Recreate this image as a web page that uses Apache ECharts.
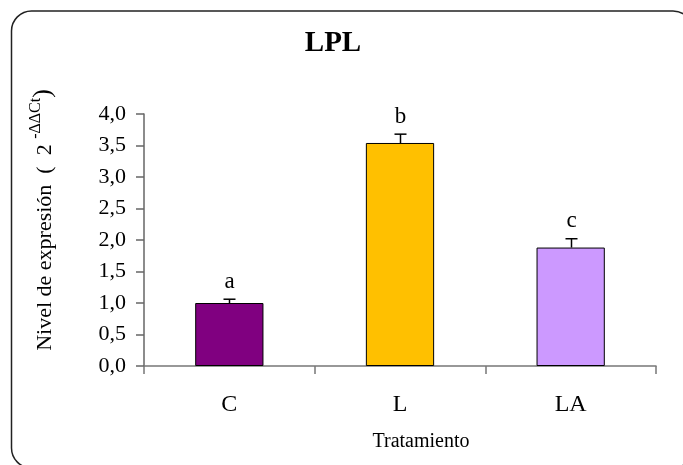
<!DOCTYPE html>
<html><head><meta charset="utf-8">
<script src="https://cdn.jsdelivr.net/npm/echarts@6/dist/echarts.min.js"></script>
<style>html,body{margin:0;padding:0;background:#fff}#c{width:683px;height:465px}</style>
</head><body><div id="c"></div>
<script>
const categories = ['C', 'L', 'LA'];
const values = [1.0, 3.54, 1.88];
const errors = [0.06, 0.14, 0.14];
const letters = ['a', 'b', 'c'];
const barColors = ['#800080', '#FFC000', '#CC99FF'];
const titleText = 'LPL';
const xTitle = 'Tratamiento';

const FONT = '"Liberation Serif", "Times New Roman", serif';
const chart = echarts.init(document.getElementById('c'));
chart.setOption({
  backgroundColor: '#fff',
  animation: false,
  grid: { left: 144, right: 27, top: 114, bottom: 99 },
  xAxis: {
    type: 'category',
    data: categories,
    boundaryGap: true,
    axisLine: { show: true, lineStyle: { color: '#777', width: 1.5 } },
    axisTick: { show: true, length: 8, alignWithLabel: false, lineStyle: { color: '#777', width: 1.5 } },
    axisLabel: { fontFamily: FONT, fontSize: 24, color: '#000', margin: 27 },
    splitLine: { show: false }
  },
  yAxis: {
    type: 'value',
    min: 0, max: 4, interval: 0.5,
    axisLine: { show: true, lineStyle: { color: '#666', width: 1.5 } },
    axisTick: { show: true, length: 8, lineStyle: { color: '#666', width: 1.5 } },
    axisLabel: { fontFamily: FONT, fontSize: 22, color: '#000', margin: 18,
      formatter: v => v.toFixed(1).replace('.', ',') },
    splitLine: { show: false }
  },
  graphic: [
    { type: 'rect', shape: { x: 11.5, y: 11, width: 681.5, height: 457, r: 20 },
      style: { fill: 'none', stroke: '#222', lineWidth: 1.5 }, silent: true, z: -1 },
    { type: 'text', x: 333, y: 44,
      style: { text: titleText, font: 'bold 29px ' + FONT, fill: '#000', align: 'center', verticalAlign: 'middle' } },
    { type: 'text', x: 421, y: 442,
      style: { text: xTitle, font: '20px ' + FONT, fill: '#000', align: 'center', verticalAlign: 'middle' } },
    { type: 'text', x: 42, y: 220, rotation: Math.PI / 2,
      style: {
        text: '{m|Nivel de expresión  (  2 }{s|-ΔΔCt}{p|)}',
        align: 'center', verticalAlign: 'middle', fill: '#000',
        rich: {
          m: { fontFamily: FONT, fontSize: 22, color: '#000', lineHeight: 29, verticalAlign: 'bottom' },
          s: { fontFamily: FONT, fontSize: 16, color: '#000', lineHeight: 29, verticalAlign: 'top' },
          p: { fontFamily: FONT, fontSize: 26, color: '#000', lineHeight: 29, verticalAlign: 'bottom' }
        }
      } }
  ],
  series: [
    {
      type: 'bar',
      barWidth: '40%',
      data: values.map((v, i) => ({ value: v, itemStyle: { color: barColors[i], borderColor: '#000', borderWidth: 1 } })),
      z: 2
    },
    {
      type: 'custom',
      data: categories.map((c, i) => [i, values[i], errors[i]]),
      encode: { x: 0, y: 1 },
      z: 3,
      renderItem: function (params, api) {
        const i = params.dataIndex;
        const v = api.value(1), e = api.value(2);
        const top = api.coord([i, v + e]);
        const base = api.coord([i, v]);
        const x = Math.round(top[0]) + 0.5;
        return {
          type: 'group', children: [
            { type: 'line', shape: { x1: x, y1: base[1], x2: x, y2: top[1] }, style: { stroke: '#000', lineWidth: 1.5 } },
            { type: 'line', shape: { x1: x - 6, y1: top[1], x2: x + 6, y2: top[1] }, style: { stroke: '#000', lineWidth: 1.5 } },
            { type: 'text', x: x, y: top[1] - 6,
              style: { text: letters[i], font: '23px ' + FONT, align: 'center', verticalAlign: 'bottom', fill: '#000' } }
          ]
        };
      }
    }
  ]
});
</script>
</body></html>
